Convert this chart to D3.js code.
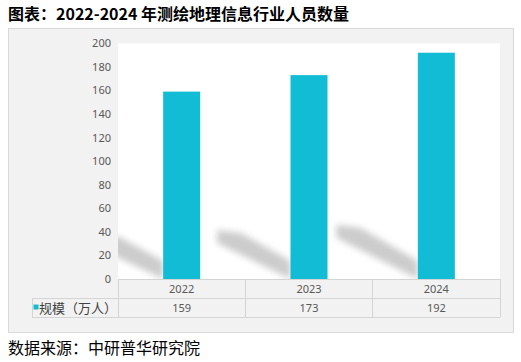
<!DOCTYPE html>
<meta charset="utf-8">
<script src="https://d3js.org/d3.v7.min.js"></script>
<style>
  body { margin: 0; background: #fff; }
  svg text { font-family: "Noto Sans", "Noto Sans CJK SC", sans-serif; }
</style>
<body>
<div id="graph"></div>
<script>
  // data
  var years = ["2022", "2023", "2024"];
  var values = [159, 173, 192];
  var yTicks = [0, 20, 40, 60, 80, 100, 120, 140, 160, 180, 200];
  var seriesName = "规模（万人）";

  var W = 521, H = 362;
  var plot = { left: 118, right: 500, top: 43.3, bottom: 279 };
  var rowH = 19;

  var svg = d3.select("#graph").append("svg")
    .attr("width", W).attr("height", H);

  // blur for bar shadows
  var defs = svg.append("defs");
  defs.append("filter").attr("id", "blur")
    .attr("x", "-20%").attr("y", "-30%").attr("width", "140%").attr("height", "160%")
    .append("feGaussianBlur").attr("stdDeviation", 3);
  defs.append("clipPath").attr("id", "plotclip")
    .append("rect")
    .attr("x", plot.left).attr("y", plot.top)
    .attr("width", plot.right - plot.left).attr("height", plot.bottom - plot.top);

  // title
  svg.append("text")
    .attr("x", 8).attr("y", 20)
    .style("font-family", "'Noto Sans CJK SC', sans-serif")
    .style("font-size", "16px").style("font-weight", "bold")
    .attr("fill", "#000")
    .text("图表：2022-2024 年测绘地理信息行业人员数量");

  // panel
  svg.append("rect")
    .attr("x", 8.5).attr("y", 28.5).attr("width", 505).attr("height", 304)
    .attr("fill", "#f2f2f2").attr("stroke", "#d9d9d9");

  svg.append("rect")
    .attr("x", plot.left).attr("y", plot.top)
    .attr("width", plot.right - plot.left).attr("height", plot.bottom - plot.top)
    .attr("fill", "#fff");

  var x = d3.scaleBand().domain(years).range([plot.left, plot.right]).paddingInner(0).paddingOuter(0);
  var y = d3.scaleLinear().domain([0, 200]).range([plot.bottom, plot.top]);
  var barW = 37;

  // shadows
  var sh = svg.append("g").attr("clip-path", "url(#plotclip)")
    .append("g").attr("filter", "url(#blur)");
  years.forEach(function (yr, i) {
    var x0 = x(yr) + (x.bandwidth() - barW) / 2;
    var base = y(0);
    var hpx = y(0) - y(values[i]);
    var dx = hpx * 0.36, dy = hpx * 0.24;
    var pts = [
      [x0 - dx, base - dy],
      [x0 - dx + 24, base - dy + 3],
      [x0, base - 18],
      [x0, base],
      [x0 - dx, base - dy + 13]
    ];
    sh.append("polygon")
      .attr("points", pts.map(function (p) { return p.join(","); }).join(" "))
      .attr("fill", "#cccccc");
  });

  // bars
  svg.append("g").selectAll("rect").data(values).join("rect")
    .attr("x", function (d, i) { return x(years[i]) + (x.bandwidth() - barW) / 2; })
    .attr("y", function (d) { return y(d); })
    .attr("width", barW)
    .attr("height", function (d) { return y(0) - y(d); })
    .attr("fill", "#12bcd4");

  // y axis (labels only)
  var yAxis = d3.axisLeft(y).tickValues(yTicks).tickSize(0).tickPadding(7);
  var ga = svg.append("g").attr("transform", "translate(" + plot.left + ",0)").call(yAxis);
  ga.select(".domain").remove();
  ga.selectAll("text").style("font-size", "11px").attr("fill", "#595959")
    .style("font-family", "'Noto Sans', sans-serif");

  // data table
  var t = svg.append("g").attr("stroke", "#d4d4d4").attr("fill", "none").attr("shape-rendering", "crispEdges");
  var r0 = plot.bottom, r1 = r0 + rowH, r2 = r1 + rowH;
  var tLeft = 32;
  t.append("line").attr("x1", plot.left).attr("x2", plot.right).attr("y1", r0).attr("y2", r0);
  t.append("line").attr("x1", tLeft).attr("x2", plot.right).attr("y1", r1).attr("y2", r1);
  t.append("line").attr("x1", tLeft).attr("x2", plot.right).attr("y1", r2).attr("y2", r2);
  t.append("line").attr("x1", tLeft).attr("x2", tLeft).attr("y1", r1).attr("y2", r2);
  years.forEach(function (yr) {
    t.append("line").attr("x1", x(yr)).attr("x2", x(yr)).attr("y1", r0).attr("y2", r2);
  });
  t.append("line").attr("x1", plot.right).attr("x2", plot.right).attr("y1", r0).attr("y2", r2);

  svg.append("g").selectAll("text").data(years).join("text")
    .attr("x", function (d) { return x(d) + x.bandwidth() / 2; })
    .attr("y", r0 + 14)
    .attr("text-anchor", "middle")
    .style("font-size", "11px").attr("fill", "#595959")
    .text(function (d) { return d; });

  svg.append("g").selectAll("text").data(values).join("text")
    .attr("x", function (d, i) { return x(years[i]) + x.bandwidth() / 2; })
    .attr("y", r1 + 14)
    .attr("text-anchor", "middle")
    .style("font-size", "11px").attr("fill", "#595959")
    .text(function (d) { return d; });

  // legend key in table
  svg.append("rect")
    .attr("x", 33.5).attr("y", r1 + 6.5).attr("width", 5).attr("height", 5)
    .attr("fill", "#12bcd4");
  svg.append("text")
    .attr("x", 39).attr("y", r1 + 14.5)
    .style("font-family", "'Noto Sans CJK SC', sans-serif")
    .style("font-size", "13px").attr("fill", "#404040")
    .text(seriesName);

  // source
  svg.append("text")
    .attr("x", 8).attr("y", 354)
    .style("font-family", "'Noto Sans CJK SC', sans-serif")
    .style("font-size", "16px").attr("fill", "#000")
    .text("数据来源：中研普华研究院");
</script>
</body>
